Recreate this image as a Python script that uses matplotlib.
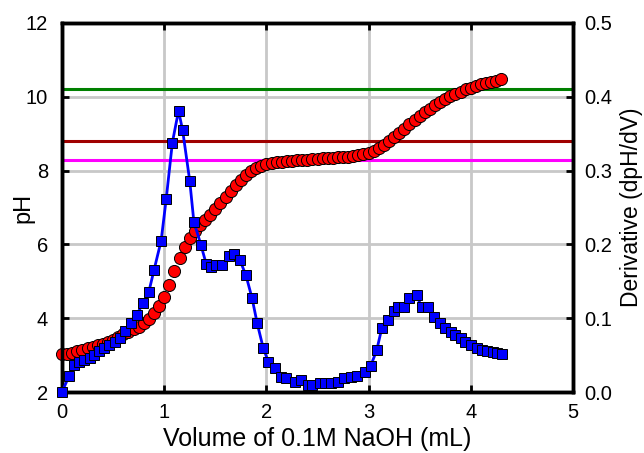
import numpy as np
import matplotlib.pyplot as plt

plt.rcParams['font.family'] = ['Liberation Sans', 'DejaVu Sans']

# titration curve: volume of NaOH (mL) and measured pH
volume = np.arange(0, 4.3001, 0.05)
ph = [3.02, 3.04, 3.07, 3.10, 3.14, 3.18, 3.22, 3.27, 3.31, 3.36,
      3.42, 3.49, 3.56, 3.63, 3.70, 3.77, 3.86, 3.97, 4.15, 4.32,
      4.58, 4.90, 5.28, 5.64, 5.93, 6.16, 6.36, 6.52, 6.66, 6.80,
      6.95, 7.12, 7.28, 7.44, 7.60, 7.74, 7.88, 7.99, 8.07, 8.13,
      8.17, 8.20, 8.22, 8.24, 8.26, 8.27, 8.28, 8.29, 8.30, 8.31,
      8.32, 8.33, 8.34, 8.35, 8.36, 8.37, 8.38, 8.40, 8.42, 8.45,
      8.48, 8.53, 8.60, 8.69, 8.80, 8.92, 9.03, 9.14, 9.25, 9.36,
      9.47, 9.58, 9.68, 9.77, 9.86, 9.94, 10.02, 10.08, 10.14, 10.20,
      10.25, 10.30, 10.34, 10.38, 10.41, 10.44, 10.48]

# first derivative dpH/dV
deriv_vol = [0.00, 0.07, 0.12, 0.17, 0.22, 0.27, 0.31, 0.36, 0.41, 0.46,
             0.52, 0.57, 0.62, 0.68, 0.73, 0.79, 0.85, 0.90, 0.97, 1.02,
             1.08, 1.14, 1.18, 1.25, 1.29, 1.36, 1.41, 1.46, 1.51, 1.57,
             1.63, 1.68, 1.74, 1.80, 1.86, 1.91, 1.97, 2.02, 2.08, 2.14,
             2.19, 2.28, 2.34, 2.41, 2.45, 2.52, 2.57, 2.63, 2.70, 2.76,
             2.83, 2.89, 2.96, 3.02, 3.08, 3.13, 3.19, 3.25, 3.29, 3.35,
             3.40, 3.47, 3.52, 3.58, 3.64, 3.70, 3.75, 3.81, 3.85, 3.90,
             3.94, 4.00, 4.06, 4.11, 4.16, 4.22, 4.26, 4.31]
deriv = [0.000, 0.022, 0.037, 0.040, 0.043, 0.046, 0.050, 0.055, 0.059, 0.064,
         0.068, 0.073, 0.082, 0.093, 0.104, 0.120, 0.136, 0.165, 0.205, 0.262,
         0.338, 0.381, 0.355, 0.286, 0.231, 0.199, 0.174, 0.169, 0.172, 0.172,
         0.184, 0.187, 0.179, 0.158, 0.127, 0.093, 0.059, 0.041, 0.032, 0.021,
         0.0185, 0.013, 0.016, 0.0095, 0.0095, 0.0126, 0.012, 0.0126, 0.014, 0.0185,
         0.020, 0.022, 0.027, 0.035, 0.057, 0.087, 0.097, 0.110, 0.115, 0.115,
         0.127, 0.131, 0.115, 0.115, 0.102, 0.094, 0.087, 0.081, 0.077, 0.073,
         0.068, 0.064, 0.060, 0.057, 0.055, 0.054, 0.053, 0.052]

# reference pH levels
ref_levels = [10.2, 8.8, 8.3]
ref_colors = ['#008000', '#a00000', '#ff00ff']

fig = plt.figure(figsize=(6.44, 4.53), dpi=100)
ax = fig.add_axes([62 / 644, 61 / 453, 511 / 644, 369 / 453])
ax2 = ax.twinx()

ax.grid(True, color='#c8c8c8', linewidth=2)
ax.set_axisbelow(True)

for lvl, col in zip(ref_levels, ref_colors):
    ax.axhline(lvl, color=col, linewidth=2.2, zorder=2)

ax.plot(volume, ph, 'o', color='red', markersize=8.7, markeredgecolor='black',
        markeredgewidth=0.7, zorder=3, clip_on=False)
ax2.plot(deriv_vol, deriv, '-s', color='#0000ff', linewidth=2, markersize=7.5,
         markerfacecolor='#0000ff', markeredgecolor='black', markeredgewidth=0.7,
         zorder=3, clip_on=False)

ax.set_xlim(0, 5)
ax.set_ylim(2, 12)
ax2.set_ylim(0, 0.5)
ax.set_xticks(range(6))
ax.set_yticks(range(2, 13, 2))
ax2.set_yticks(np.arange(0, 0.51, 0.1))
ax2.set_yticklabels(['0.0', '0.1', '0.2', '0.3', '0.4', '0.5'])

for a in (ax, ax2):
    for s in a.spines.values():
        s.set_linewidth(2.5)
        s.set_color('black')
ax.tick_params(direction='in', length=5, width=2, labelsize=14.5, top=True)
ax.tick_params(axis='x', pad=8)
ax.tick_params(axis='y', pad=10)
ax2.tick_params(direction='in', length=5, width=2, labelsize=14.5, pad=8)

ax.set_xlabel('Volume of 0.1M NaOH (mL)', fontsize=18)
ax.set_ylabel('pH', fontsize=17)
ax2.set_ylabel('Derivative (dpH/dV)', fontsize=16.5)
ax.xaxis.set_label_coords(0.5, -0.095)
ax.yaxis.set_label_coords(-0.053, 0.5)
ax2.yaxis.set_label_coords(1.092, 0.5)

fig.savefig('out.png', dpi=100)
